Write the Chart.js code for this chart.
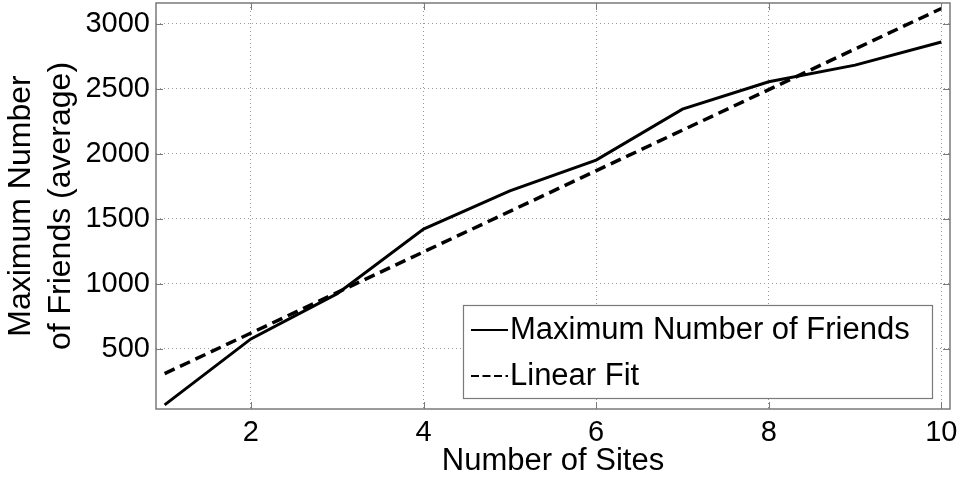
<!DOCTYPE html>
<html>
<head>
<meta charset="utf-8">
<script src="https://cdn.jsdelivr.net/npm/chart.js@4.4.0/dist/chart.umd.min.js"></script>
<style>
    html, body { margin: 0; padding: 0; background: #ffffff; }
    #wrap { width: 964px; height: 477px; }
</style>
</head>
<body>
<div id="wrap"><canvas id="friendsChart" width="964" height="477"></canvas></div>
<script>
const sites = [1, 2, 3, 4, 5, 6, 7, 8, 9, 10];
const maxFriends = [70, 577, 925, 1421, 1715, 1952, 2344, 2554, 2682, 2860];
const fitSites = [1, 10];
const fitValues = [310, 3118];
const xTicks = [2, 4, 6, 8, 10];
const yTicks = [500, 1000, 1500, 2000, 2500, 3000];

const FONT = "'Liberation Sans', Arial, sans-serif";
const FRAME = "#7a7a7a";

// MATLAB-like box: frame, inward ticks and the legend inside the plot
const matlabBox = {
    id: "matlabBox",
    afterDatasetsDraw(chart) {
        const {ctx, chartArea: a, scales} = chart;
        ctx.save();
        ctx.strokeStyle = FRAME;
        ctx.lineWidth = 1.5;
        ctx.setLineDash([]);
        ctx.strokeRect(a.left, a.top, a.right - a.left, a.bottom - a.top);

        const len = 7;
        ctx.beginPath();
        xTicks.forEach(v => {
            const x = Math.round(scales.x.getPixelForValue(v)) + 0.5;
            ctx.moveTo(x, a.bottom); ctx.lineTo(x, a.bottom - len);
            ctx.moveTo(x, a.top); ctx.lineTo(x, a.top + len);
        });
        yTicks.forEach(v => {
            const y = Math.round(scales.y.getPixelForValue(v)) + 0.5;
            ctx.moveTo(a.left, y); ctx.lineTo(a.left + len, y);
            ctx.moveTo(a.right, y); ctx.lineTo(a.right - len, y);
        });
        ctx.lineWidth = 1;
        ctx.stroke();

        // legend
        const box = {x: 463, y: 305, w: 469, h: 93};
        ctx.fillStyle = "#ffffff";
        ctx.fillRect(box.x, box.y, box.w, box.h);
        ctx.strokeStyle = FRAME;
        ctx.lineWidth = 1.2;
        ctx.strokeRect(box.x + 0.5, box.y + 0.5, box.w, box.h);

        ctx.font = "31px " + FONT;
        ctx.fillStyle = "#000000";
        ctx.textBaseline = "middle";
        chart.data.datasets.forEach((ds, i) => {
            const y = box.y + 25 + i * 46;
            ctx.beginPath();
            ctx.strokeStyle = "#000000";
            ctx.lineWidth = 2;
            ctx.setLineDash(i === 0 ? [] : [8, 3.5]);
            ctx.moveTo(box.x + 8, y);
            ctx.lineTo(box.x + 45, y);
            ctx.stroke();
            ctx.setLineDash([]);
            ctx.fillText(ds.label, box.x + 47, y);
        });
        ctx.restore();
    }
};

new Chart(document.getElementById("friendsChart"), {
    type: "line",
    data: {
        datasets: [{
            label: "Maximum Number of Friends",
            data: sites.map((s, i) => ({x: s, y: maxFriends[i]})),
            borderColor: "#000000",
            borderWidth: 3,
            pointRadius: 0,
            tension: 0
        }, {
            label: "Linear Fit",
            data: fitSites.map((s, i) => ({x: s, y: fitValues[i]})),
            borderColor: "#000000",
            borderWidth: 3.5,
            borderDash: [11, 6],
            pointRadius: 0,
            tension: 0
        }]
    },
    options: {
        responsive: false,
        animation: false,
        devicePixelRatio: 1,
        layout: {
            padding: {left: 0, right: 14, top: 3, bottom: 0}
        },
        plugins: {
            legend: {display: false},
            tooltip: {enabled: false}
        },
        scales: {
            x: {
                type: "linear",
                min: 0.9,
                max: 10.1,
                afterBuildTicks: scale => {
                    scale.ticks = xTicks.map(v => ({value: v}));
                },
                afterFit: scale => {
                    scale.height = 68;
                    scale.paddingLeft = 0;
                    scale.paddingRight = 0;
                },
                grid: {
                    color: "#9a9a9a",
                    lineWidth: 1,
                    drawTicks: false
                },
                border: {display: false, dash: [1, 3]},
                ticks: {
                    color: "#000000",
                    padding: 7,
                    callback: v => String(v),
                    font: {family: FONT, size: 29}
                },
                title: {
                    display: true,
                    text: "Number of Sites",
                    color: "#000000",
                    padding: {top: 0, bottom: 0},
                    font: {family: FONT, size: 31, lineHeight: 1.0}
                }
            },
            y: {
                type: "linear",
                min: 38,
                max: 3160,
                afterBuildTicks: scale => {
                    scale.ticks = yTicks.map(v => ({value: v}));
                },
                afterFit: scale => {
                    scale.width = 156;
                    scale.paddingTop = 0;
                    scale.paddingBottom = 0;
                },
                grid: {
                    color: "#9a9a9a",
                    lineWidth: 1,
                    drawTicks: false
                },
                border: {display: false, dash: [1, 3]},
                ticks: {
                    color: "#000000",
                    padding: 6,
                    callback: v => String(v),
                    font: {family: FONT, size: 29}
                },
                title: {
                    display: true,
                    text: ["Maximum Number", "of Friends (average)"],
                    color: "#000000",
                    padding: {top: 1, bottom: 0},
                    font: {family: FONT, size: 32, lineHeight: 1.25}
                }
            }
        }
    },
    plugins: [matlabBox]
});
</script>
</body>
</html>
